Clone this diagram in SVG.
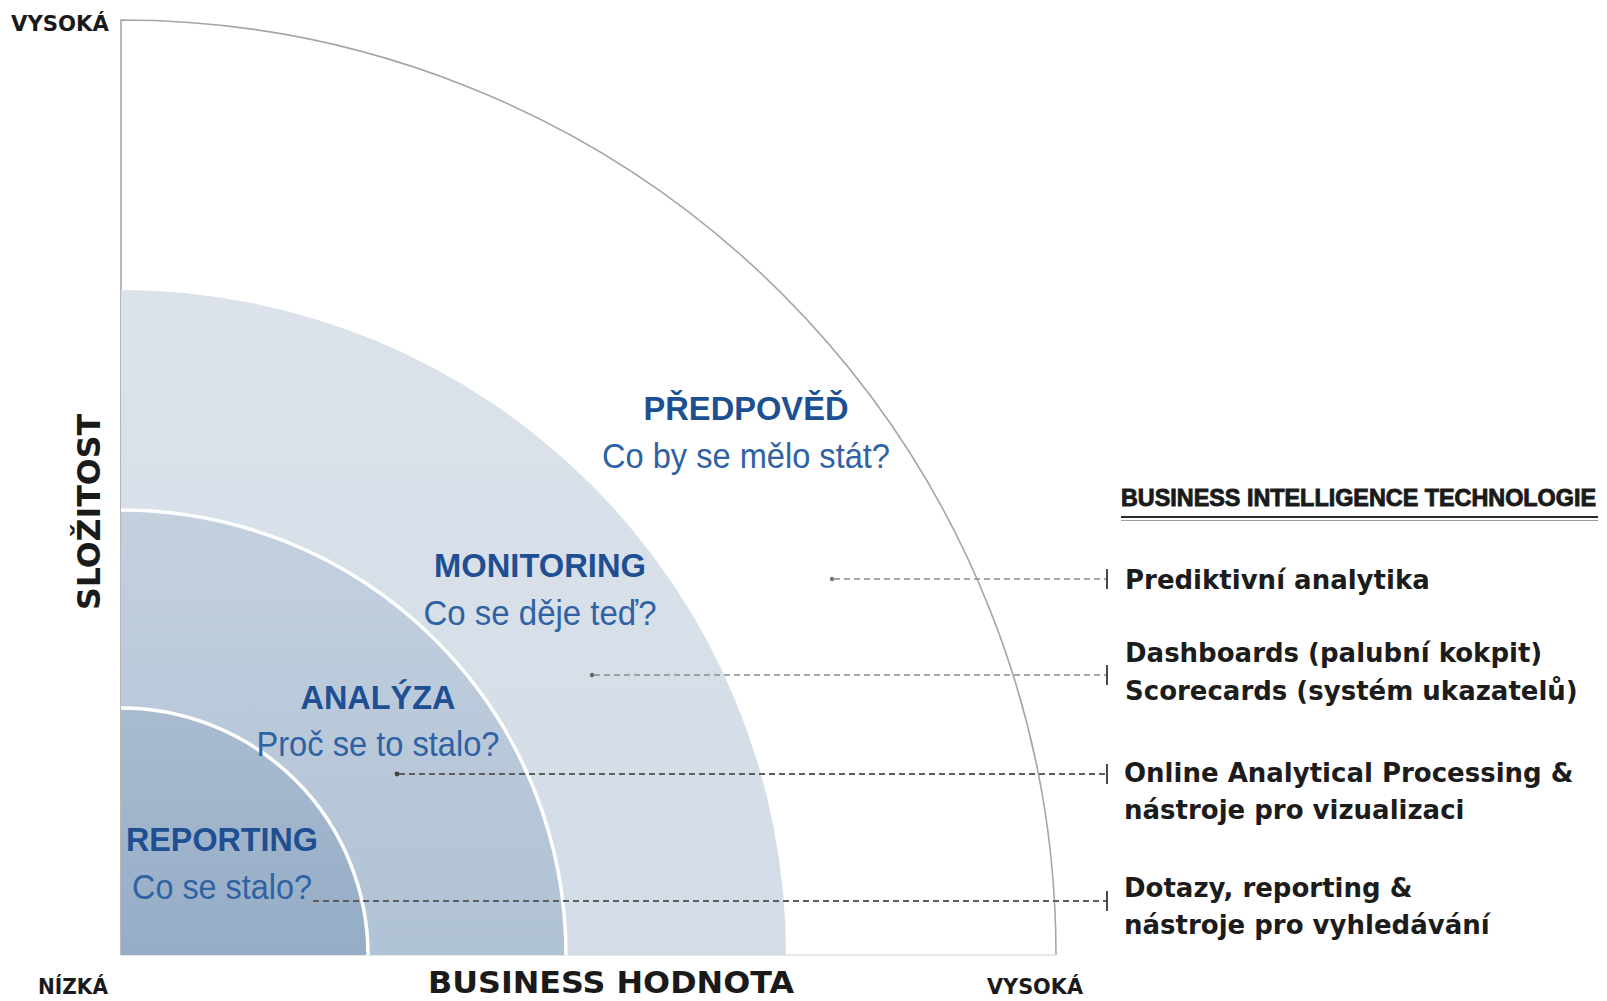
<svg xmlns="http://www.w3.org/2000/svg" width="1607" height="1001" viewBox="0 0 1607 1001">
<defs>
  <linearGradient id="gRep" gradientUnits="userSpaceOnUse" x1="0" y1="708" x2="0" y2="955">
    <stop offset="0" stop-color="#a9bbcf"/>
    <stop offset="1" stop-color="#95adc7"/>
  </linearGradient>
  <linearGradient id="gAna" gradientUnits="userSpaceOnUse" x1="0" y1="510" x2="0" y2="955">
    <stop offset="0" stop-color="#c3d0de"/>
    <stop offset="1" stop-color="#b0c2d6"/>
  </linearGradient>
  <linearGradient id="gMon" gradientUnits="userSpaceOnUse" x1="0" y1="290" x2="0" y2="955">
    <stop offset="0" stop-color="#dbe2ea"/>
    <stop offset="1" stop-color="#d3dce7"/>
  </linearGradient>
</defs>
<style>
.ax{font-family:"DejaVu Sans","Liberation Sans",sans-serif;font-weight:bold;fill:#1a1a1a}
.hdr{font-family:"Liberation Sans",Arial,sans-serif;font-weight:bold;font-size:23.5px;fill:#1a1a1a;stroke:#1a1a1a;stroke-width:0.9}
.ttl{font-family:"Liberation Sans",Arial,sans-serif;font-weight:bold;font-size:33px;fill:#1e4f92;text-anchor:middle}
.sub{font-family:"Liberation Sans",Arial,sans-serif;font-size:35px;fill:#2f62a3;text-anchor:middle}
.leg{font-family:"DejaVu Sans","Liberation Sans",sans-serif;font-weight:bold;font-size:26px;fill:#1c1c1c}
.sep{fill:none;stroke:#ffffff;stroke-width:3.5}
.dl{fill:none;stroke:#8c8c8c;stroke-width:1.6;stroke-dasharray:6 4}
.dd{fill:none;stroke:#5e5e5e;stroke-width:2;stroke-dasharray:6 4}
.tick{stroke:#4a4a4a;stroke-width:2}
</style>
<rect width="1607" height="1001" fill="#ffffff"/>

<g id="region-predpoved">
  <path d="M121,955 V20 A935,935 0 0 1 1056,955 Z" fill="#ffffff"/>
  <path d="M121,955 V20 A935,935 0 0 1 1056,955" fill="none" stroke="#a6a6a6" stroke-width="1.6"/>
  <line x1="121" y1="955" x2="1056" y2="955" stroke="#e2e2e2" stroke-width="1.5"/>
</g>
<g id="region-monitoring">
  <path d="M121,955 V290 A665,665 0 0 1 786,955 Z" fill="url(#gMon)"/>
</g>
<g id="region-analyza">
  <path d="M121,955 V510 A445,445 0 0 1 566,955 Z" fill="url(#gAna)"/>
  <path class="sep" d="M121,510 A445,445 0 0 1 566,955"/>
</g>
<g id="region-reporting">
  <path d="M121,955 V708 A247,247 0 0 1 368,955 Z" fill="url(#gRep)"/>
  <path class="sep" d="M121,708 A247,247 0 0 1 368,955"/>
</g>

<g id="labels-regions">
  <text class="ttl" x="746" y="420" textLength="205" lengthAdjust="spacingAndGlyphs">PŘEDPOVĚĎ</text>
  <text class="sub" x="746" y="468" textLength="288" lengthAdjust="spacingAndGlyphs">Co by se mělo stát?</text>
  <text class="ttl" x="540" y="577" textLength="212" lengthAdjust="spacingAndGlyphs">MONITORING</text>
  <text class="sub" x="540" y="625" textLength="233" lengthAdjust="spacingAndGlyphs">Co se děje teď?</text>
  <text class="ttl" x="378" y="709" textLength="155" lengthAdjust="spacingAndGlyphs">ANALÝZA</text>
  <text class="sub" x="378" y="756" textLength="243" lengthAdjust="spacingAndGlyphs">Proč se to stalo?</text>
  <text class="ttl" x="222" y="851" textLength="192" lengthAdjust="spacingAndGlyphs">REPORTING</text>
  <text class="sub" x="222" y="899" textLength="180" lengthAdjust="spacingAndGlyphs">Co se stalo?</text>
</g>

<g id="axes">
  <text class="ax" x="11" y="31" font-size="21" textLength="98" lengthAdjust="spacingAndGlyphs">VYSOKÁ</text>
  <text class="ax" x="38" y="994" font-size="21" textLength="70" lengthAdjust="spacingAndGlyphs">NÍZKÁ</text>
  <text class="ax" x="987" y="994" font-size="21" textLength="96" lengthAdjust="spacingAndGlyphs">VYSOKÁ</text>
  <text class="ax" x="428" y="993" font-size="31" textLength="366" lengthAdjust="spacingAndGlyphs">BUSINESS HODNOTA</text>
  <text class="ax" font-size="32" text-anchor="middle" transform="translate(100,512) rotate(-90)" textLength="196" lengthAdjust="spacingAndGlyphs">SLOŽITOST</text>
</g>

<g id="connectors">
  <circle cx="832" cy="579" r="2.2" fill="#777"/>
  <line class="dl" x1="834" y1="579" x2="1106" y2="579"/>
  <line class="tick" x1="1107" y1="569" x2="1107" y2="589"/>

  <circle cx="592" cy="675" r="2.2" fill="#666"/>
  <line class="dl" x1="594" y1="675" x2="1106" y2="675"/>
  <line class="tick" x1="1107" y1="665" x2="1107" y2="685"/>

  <circle cx="397" cy="774" r="2.4" fill="#444"/>
  <line class="dd" x1="399" y1="774" x2="1106" y2="774"/>
  <line class="tick" x1="1107" y1="764" x2="1107" y2="784"/>

  <line class="dd" x1="313" y1="901" x2="1106" y2="901"/>
  <line class="tick" x1="1107" y1="891" x2="1107" y2="911"/>
</g>

<g id="legend">
  <g id="legend-header">
    <text class="hdr" x="1121" y="506" textLength="475" lengthAdjust="spacingAndGlyphs">BUSINESS INTELLIGENCE TECHNOLOGIE</text>
    <line x1="1121" y1="517" x2="1598" y2="517" stroke="#2a2a2a" stroke-width="2"/>
    <line x1="1121" y1="520.5" x2="1598" y2="520.5" stroke="#9a9a9a" stroke-width="1"/>
  </g>
  <g id="legend-prediktivni">
    <text class="leg" x="1125" y="589">Prediktivní analytika</text>
  </g>
  <g id="legend-dashboards">
    <text class="leg" x="1125" y="662">Dashboards (palubní kokpit)</text>
    <text class="leg" x="1125" y="700">Scorecards (systém ukazatelů)</text>
  </g>
  <g id="legend-olap">
    <text class="leg" x="1124" y="782">Online Analytical Processing &amp;</text>
    <text class="leg" x="1124" y="819">nástroje pro vizualizaci</text>
  </g>
  <g id="legend-dotazy">
    <text class="leg" x="1124" y="897">Dotazy, reporting &amp;</text>
    <text class="leg" x="1124" y="934">nástroje pro vyhledávání</text>
  </g>
</g>
</svg>
